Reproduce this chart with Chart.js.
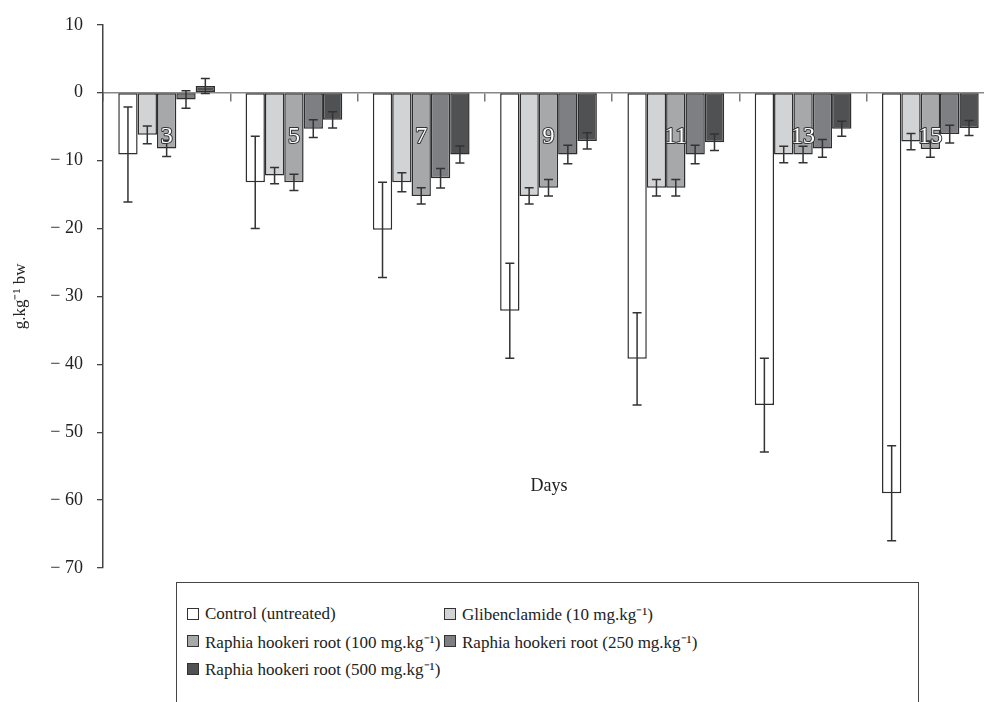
<!DOCTYPE html>
<html>
<head>
<meta charset="utf-8">
<script src="https://cdn.jsdelivr.net/npm/chart.js@4.4.1/dist/chart.umd.min.js"></script>
<style>
html, body { margin: 0; padding: 0; background: #fff; overflow: hidden; width: 984px; height: 702px; }
#wrap { position: relative; width: 1000px; height: 702px; }
#legend {
    position: absolute; left: 176px; top: 582px; width: 743px; height: 140px;
    border: 1.5px solid #444; box-sizing: border-box; background: #fff;
    font-family: 'Liberation Serif', serif; font-size: 17px; color: #222;
    display: grid; grid-template-columns: 257px auto; grid-auto-rows: 27.5px;
    padding: 17px 0 0 10px;
}
#legend .item { display: flex; align-items: center; white-space: nowrap; }
#legend .box { flex-shrink: 0; width: 10px; height: 10px; border: 1.3px solid #333; margin-right: 6px; }
</style>
</head>
<body>
<div id="wrap">
    <canvas id="barChart" width="1000" height="702"></canvas>
    <div id="legend"></div>
</div>
<script>
// days after treatment
var days = ['3', '5', '7', '9', '11', '13', '15'];

var seriesNames = [
    'Control (untreated)',
    'Glibenclamide (10 mg.kg\u207B\u00B9)',
    'Raphia hookeri root (100 mg.kg\u207B\u00B9)',
    'Raphia hookeri root (250 mg.kg\u207B\u00B9)',
    'Raphia hookeri root (500 mg.kg\u207B\u00B9)'
];
var seriesColors = ['#ffffff', '#d2d3d5', '#a7a8aa', '#7e7f82', '#505153'];

var control = [-9.1, -13.2, -20.2, -32.1, -39.2, -46.0, -59.0];
var controlErr = [7.0, 6.8, 7.0, 7.0, 6.8, 6.9, 7.0];
var glib = [-6.2, -12.2, -13.2, -15.2, -14.0, -9.1, -7.2];
var glibErr = [1.3, 1.2, 1.4, 1.2, 1.2, 1.2, 1.2];
var r100 = [-8.2, -13.2, -15.2, -14.0, -14.0, -9.1, -8.3];
var r100Err = [1.2, 1.2, 1.2, 1.2, 1.2, 1.2, 1.2];
var r250 = [-1.0, -5.3, -12.6, -9.1, -9.1, -8.2, -6.1];
var r250Err = [1.3, 1.3, 1.45, 1.35, 1.35, 1.3, 1.3];
var r500 = [1.0, -4.0, -9.1, -7.1, -7.3, -5.3, -5.2];
var r500Err = [1.1, 1.2, 1.25, 1.2, 1.2, 1.1, 1.1];

var yTicks = [10, 0, -10, -20, -30, -40, -50, -60, -70];

var serif = "'Liberation Serif', serif";

var values = [control, glib, r100, r250, r500];
var errors = [controlErr, glibErr, r100Err, r250Err, r500Err];

var datasets = values.map(function(v, i) {
    return {
        label: seriesNames[i],
        data: v,
        errors: errors[i],
        backgroundColor: seriesColors[i],
        borderColor: '#2e2e2e',
        borderWidth: 1.5,
        borderSkipped: false
    };
});

var errorBars = {
    id: 'errorBars',
    afterDatasetsDraw: function(chart) {
        var ctx = chart.ctx, y = chart.scales.y;
        ctx.save();
        ctx.strokeStyle = '#333';
        ctx.lineWidth = 1.5;
        chart.data.datasets.forEach(function(ds, i) {
            chart.getDatasetMeta(i).data.forEach(function(bar, j) {
                var v = ds.data[j], e = ds.errors[j];
                var top = y.getPixelForValue(v + e), bot = y.getPixelForValue(v - e);
                ctx.beginPath();
                ctx.moveTo(bar.x, top); ctx.lineTo(bar.x, bot);
                ctx.moveTo(bar.x - 4.5, top); ctx.lineTo(bar.x + 4.5, top);
                ctx.moveTo(bar.x - 4.5, bot); ctx.lineTo(bar.x + 4.5, bot);
                ctx.stroke();
            });
        });
        ctx.restore();
    }
};

// day numbers written over the middle bar of each group, plus the "Days" caption
var dayLabels = {
    id: 'dayLabels',
    afterDraw: function(chart) {
        var ctx = chart.ctx, y = chart.scales.y;
        var mid = chart.getDatasetMeta(2).data;
        ctx.save();
        ctx.font = '24px ' + serif;
        ctx.textAlign = 'center';
        ctx.textBaseline = 'middle';
        ctx.lineJoin = 'round';
        mid.forEach(function(bar, j) {
            var py = y.getPixelForValue(-6.5);
            ctx.lineWidth = 2;
            ctx.strokeStyle = '#333';
            ctx.strokeText(days[j], bar.x, py);
            ctx.fillStyle = '#fff';
            ctx.fillText(days[j], bar.x, py);
        });
        ctx.font = '18px ' + serif;
        ctx.fillStyle = '#222';
        ctx.fillText('Days', 549, y.getPixelForValue(-58));
        ctx.restore();
    }
};

var ctx = document.getElementById('barChart').getContext('2d');
var barChart = new Chart(ctx, {
    type: 'bar',
    data: { labels: days, datasets: datasets },
    options: {
        responsive: false,
        animation: false,
        layout: { padding: { left: 0, right: 6, top: 24, bottom: 134 } },
        datasets: { bar: { categoryPercentage: 0.76, barPercentage: 1.0 } },
        plugins: { legend: { display: false }, tooltip: { enabled: false } },
        scales: {
            x: {
                position: { y: 0 },
                grid: { display: true, drawOnChartArea: false, drawTicks: true, tickLength: 8, color: '#777', lineWidth: 1.5, offset: true },
                border: { display: true, color: '#888', width: 1.5 },
                ticks: { display: false }
            },
            y: {
                min: -70,
                max: 10,
                afterFit: function(scale) { scale.width = 103; },
                afterBuildTicks: function(scale) {
                    scale.ticks = yTicks.map(function(v) { return { value: v }; });
                },
                grid: { drawOnChartArea: false, drawTicks: true, tickLength: 6, color: '#444', lineWidth: 1.3 },
                border: { display: true, color: '#444', width: 1.5 },
                ticks: {
                    padding: 14,
                    color: '#222',
                    font: { family: serif, size: 18 },
                    callback: function(v) { return v < 0 ? '\u2212 ' + Math.abs(v) : String(v); }
                },
                title: {
                    display: true,
                    text: 'g.kg\u207B\u00B9 bw',
                    color: '#222',
                    font: { family: serif, size: 17 },
                    padding: { top: 10, bottom: 0 }
                }
            }
        }
    },
    plugins: [errorBars, dayLabels]
});

// legend in two columns, built from the chart's datasets
var legend = document.getElementById('legend');
barChart.data.datasets.forEach(function(ds) {
    var item = document.createElement('div');
    item.className = 'item';
    var box = document.createElement('span');
    box.className = 'box';
    box.style.background = ds.backgroundColor;
    item.appendChild(box);
    item.appendChild(document.createTextNode(ds.label));
    legend.appendChild(item);
});
</script>
</body>
</html>
